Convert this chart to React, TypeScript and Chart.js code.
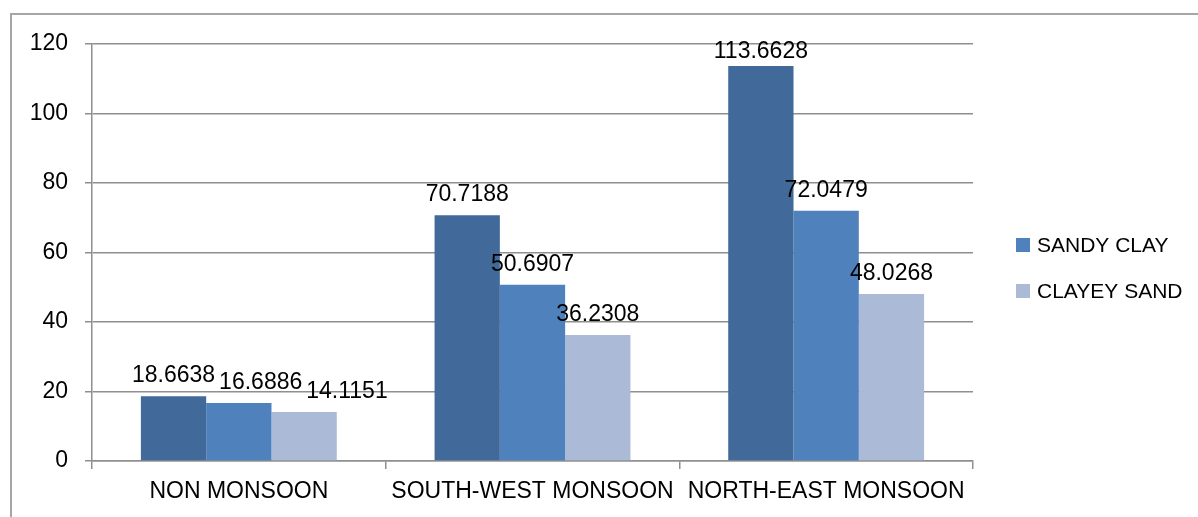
import React, { useEffect, useRef } from "react";
import { Chart, registerables } from "chart.js";

Chart.register(...registerables);

const categories = ["NON MONSOON", "SOUTH-WEST MONSOON", "NORTH-EAST MONSOON"];
const series1Values = [18.6638, 70.7188, 113.6628];
const sandyClayValues = [16.6886, 50.6907, 72.0479];
const clayeySandValues = [14.1151, 36.2308, 48.0268];
const yTicks = [0, 20, 40, 60, 80, 100, 120];

const FONT = "'Liberation Sans', Arial, sans-serif";
const FS = 23;

const labelPlugin = {
  id: "valueLabels",
  afterDatasetsDraw(chart: any) {
    const ctx = chart.ctx;
    ctx.save();
    ctx.font = `${FS}px ${FONT}`;
    ctx.fillStyle = "#000";
    ctx.textAlign = "center";
    ctx.textBaseline = "alphabetic";
    const n = chart.data.labels.length;
    for (let i = 0; i < n; i++) {
      let prev: { right: number; top: number; bottom: number } | null = null;
      chart.data.datasets.forEach((ds: any, di: number) => {
        const bar: any = chart.getDatasetMeta(di).data[i];
        const text = String(ds.data[i]);
        const w = ctx.measureText(text).width;
        const y = Math.max(bar.y - 14, 58);
        let cx = bar.x;
        const top = y - 17;
        const bottom = y;
        if (prev && top < prev.bottom && bottom > prev.top && cx - w / 2 < prev.right + 4) {
          cx = prev.right + 4 + w / 2;
        }
        ctx.fillText(text, cx, y);
        prev = { right: cx + w / 2, top, bottom };
      });
    }
    ctx.restore();
  },
};

const legendPlugin = {
  id: "customLegend",
  afterDraw(chart: any) {
    const ctx = chart.ctx;
    ctx.save();
    ctx.font = `21px ${FONT}`;
    ctx.textAlign = "left";
    ctx.textBaseline = "middle";
    const items = chart.data.datasets.filter((d: any) => d.label);
    items.forEach((ds: any, k: number) => {
      const cy = 245 + k * 46;
      ctx.fillStyle = ds.backgroundColor;
      ctx.fillRect(1016, cy - 7, 14, 14);
      ctx.fillStyle = "#000";
      ctx.fillText(ds.label, 1037, cy + 1);
    });
    ctx.restore();
  },
};

export default function App() {
  const ref = useRef<HTMLCanvasElement>(null);
  useEffect(() => {
    if (!ref.current) return;
    const chart = new Chart(ref.current, {
      type: "bar",
      data: {
        labels: categories,
        datasets: [
          { label: "", data: series1Values, backgroundColor: "#416A9B" },
          { label: "SANDY CLAY", data: sandyClayValues, backgroundColor: "#4F81BD" },
          { label: "CLAYEY SAND", data: clayeySandValues, backgroundColor: "#AABAD7" },
        ],
      },
      options: {
        animation: false,
        responsive: false,
        maintainAspectRatio: false,
        devicePixelRatio: 1,
        layout: { padding: { left: 10, top: 44, right: 225, bottom: 0 } },
        plugins: { legend: { display: false }, tooltip: { enabled: false } },
        datasets: { bar: { categoryPercentage: 0.667, barPercentage: 1 } },
        scales: {
          x: {
            offset: true,
            afterFit: (s: any) => { s.height = 56; },
            grid: {
              offset: true,
              drawOnChartArea: false,
              drawTicks: true,
              tickLength: 8,
              color: "#8f8f8f",
              lineWidth: 1.5,
            },
            border: { display: true, color: "#8f8f8f", width: 1.5 },
            ticks: {
              color: "#000",
              font: { family: FONT, size: FS },
              padding: 9,
              maxRotation: 0,
              autoSkip: false,
            },
          },
          y: {
            min: 0,
            max: 120,
            afterFit: (s: any) => { s.width = 82; },
            afterBuildTicks: (s: any) => { s.ticks = yTicks.map((v) => ({ value: v })); },
            grid: { color: "#8f8f8f", lineWidth: 1.5, tickLength: 7 },
            border: { display: true, color: "#8f8f8f", width: 1.5 },
            ticks: {
              color: "#000",
              font: { family: FONT, size: FS },
              padding: 17,
            },
          },
        },
      },
      plugins: [labelPlugin, legendPlugin],
    });
    return () => chart.destroy();
  }, []);

  return (
    <div style={{ position: "fixed", left: 0, top: 0, width: 1198, height: 517, overflow: "hidden", background: "#fff" }}>
      <div
        style={{
          position: "absolute",
          left: 10,
          top: 13,
          width: 3000,
          height: 3000,
          borderTop: "2px solid #A6A6A6",
          borderLeft: "2px solid #A6A6A6",
        }}
      />
      <canvas ref={ref} width={1198} height={517} style={{ position: "absolute", left: 0, top: 0 }} />
    </div>
  );
}
